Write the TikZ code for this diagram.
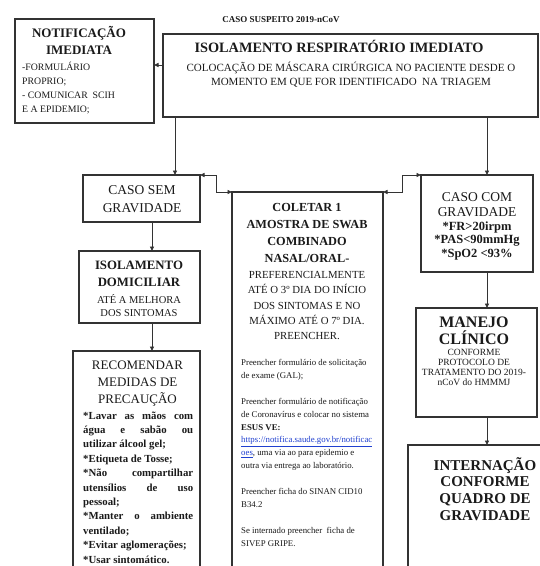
\documentclass[tikz,border=0pt]{standalone}
\usepackage{fontspec}
\setmainfont{Liberation Serif}
\usetikzlibrary{arrows.meta}
\definecolor{ink}{HTML}{1A1A1A}
\definecolor{edge}{HTML}{333333}
\definecolor{linkblue}{HTML}{2040D0}
\newcommand{\fs}[2]{\fontsize{#1}{#2}\selectfont}
\tikzset{
  box/.style={draw=edge, line width=1.1pt, fill=white, anchor=north west, inner sep=0pt, outer sep=0pt},
  txt/.style={inner sep=0pt, text=ink, anchor=base},
  tip/.tip={Triangle[length=4.5pt,width=4pt]},
  arr/.style={draw=edge, line width=0.9pt, -tip},
  arrboth/.style={draw=edge, line width=0.9pt, tip-tip},
}
\begin{document}
\begin{tikzpicture}[x=1pt,y=-1pt]
\useasboundingbox[fill=white] (0,0) rectangle (540,566);
\begin{scope}
\clip (0,0) rectangle (540,566);
% boxes
\node[box, minimum width=139pt, minimum height=104pt] (notif) at (15,19) {};
\node[box, minimum width=375pt, minimum height=83pt] (top) at (163,34) {};
\node[box, minimum width=117pt, minimum height=47pt] (casosem) at (83,175) {};
\node[box, minimum width=121pt, minimum height=72pt] (isodom) at (79,251) {};
\node[box, minimum width=127pt, minimum height=240pt] (recom) at (73,351) {};
\node[box, minimum width=151pt, minimum height=400pt] (coletar) at (232,192) {};
\node[box, minimum width=112pt, minimum height=97pt] (casocom) at (421,175) {};
\node[box, minimum width=121pt, minimum height=109pt] (manejo) at (416,308) {};
\node[box, minimum width=160pt, minimum height=200pt] (intern) at (408,445) {};
% helper coordinates
\coordinate (xa) at (175,0);
\coordinate (xb) at (487,0);
\coordinate (xc) at (152,0);
\coordinate (ya) at (0,65);
% connectors
\draw[arr] (top.west |- ya) -- (notif.east |- ya);
\draw[arr] (top.south -| xa) -- (casosem.north -| xa);
\draw[arr] (top.south -| xb) -- (casocom.north -| xb);
\draw[arrboth] (casosem.north east) -- ++(16,0) |- (coletar.north west);
\draw[arrboth] (casocom.north west) -- ++(-19,0) |- (coletar.north east);
\draw[arr] (casosem.south -| xc) -- (isodom.north -| xc);
\draw[arr] (isodom.south -| xc) -- (recom.north -| xc);
\draw[arr] (casocom.south -| xb) -- (manejo.north -| xb);
\draw[arr] (manejo.south -| xb) -- (intern.north -| xb);
% texts (anchor=base is the baseline of the LAST line)
\node[txt, font=\bfseries\fs{9}{11}] (t0) at (281,22) {CASO SUSPEITO 2019-nCoV};
\node[txt, font=\bfseries\fs{14.3}{16}] (t1) at (339,52.5) {ISOLAMENTO RESPIRATÓRIO IMEDIATO};
\node[txt, align=center, font=\fs{11}{14}] (t2) at (351,85.5) {COLOCAÇÃO DE MÁSCARA CIRÚRGICA NO PACIENTE DESDE O\\MOMENTO EM QUE FOR IDENTIFICADO \ NA TRIAGEM};
\node[txt, align=center, font=\bfseries\fs{13}{17}] (t3) at (79,54.5) {NOTIFICAÇÃO\\IMEDIATA};
\node[txt, anchor=base west, align=left, font=\fs{9.8}{14.3}] (t4) at (22,112.9) {-FORMULÁRIO\\PROPRIO;\\- COMUNICAR \ SCIH\\E A EPIDEMIO;};
\node[txt, align=center, font=\fs{13.5}{18}] (t5) at (142,212.5) {CASO SEM\\GRAVIDADE};
\node[txt, align=center, font=\bfseries\fs{12.8}{17}] (t6) at (139,286.5) {ISOLAMENTO\\DOMICILIAR};
\node[txt, align=center, font=\fs{10.5}{12.5}] (t7) at (139,316) {ATÉ A MELHORA\\DOS SINTOMAS};
\node[txt, align=center, font=\fs{13}{17}] (t8) at (137.5,403.3) {RECOMENDAR\\MEDIDAS DE\\PRECAUÇÃO};
\node[txt, anchor=base west, align=left, font=\bfseries\fs{10.8}{14.4}] (t9) at (83,563) {%
\makebox[110pt][s]{*Lavar as mãos com}\\
\makebox[110pt][s]{água e sabão ou}\\
utilizar álcool gel;\\
*Etiqueta de Tosse;\\
\makebox[110pt][s]{*Não compartilhar}\\
\makebox[110pt][s]{utensílios de uso}\\
pessoal;\\
\makebox[110pt][s]{*Manter o ambiente}\\
ventilado;\\
*Evitar aglomerações;\\
*Usar sintomático.};
\node[txt, align=center, font=\bfseries\fs{12.3}{17}] (t10) at (307,262.3) {COLETAR 1\\AMOSTRA DE SWAB\\COMBINADO\\NASAL/ORAL-};
\node[txt, align=center, font=\fs{10.8}{15.3}] (t11) at (307,339.8) {PREFERENCIALMENTE\\ATÉ O 3º DIA DO INÍCIO\\DOS SINTOMAS E NO\\MÁXIMO ATÉ O 7º DIA.\\PREENCHER.};
\node[txt, anchor=base west, align=left, font=\fs{8.8}{12.9}] (t12) at (241,546.1) {%
Preencher formulário de solicitação\\
de exame (GAL);\\[12.9pt]
Preencher formulário de notificação\\
de Coronavírus e colocar no sistema\\
\textbf{ESUS VE:}\\
{\color{linkblue}\underline{https://notifica.saude.gov.br/notificac}}\\
{\color{linkblue}\underline{oes}}, uma via ao para epidemio e\\
outra via entrega ao laboratório.\\[12.9pt]
Preencher ficha do SINAN CID10\\
B34.2\\[12.9pt]
Se internado preencher \ ficha de\\
SIVEP GRIPE.};
\node[txt, align=center, font=\fs{13.5}{15}] (t13) at (477,216.5) {CASO COM\\GRAVIDADE};
\node[txt, align=center, font=\bfseries\fs{12.5}{13.5}] (t14) at (477,257) {*FR>20irpm\\*PAS<90mmHg\\*SpO2 <93\%};
\node[txt, align=center, font=\bfseries\fs{16}{16.5}] (t15) at (474,344) {MANEJO\\CLÍNICO};
\node[txt, align=center, font=\fs{9.5}{10}] (t16) at (474,385) {CONFORME\\PROTOCOLO DE\\TRATAMENTO DO 2019-\\nCoV do HMMMJ};
\node[txt, align=center, font=\bfseries\fs{15}{16.7}] (t17) at (485,520.1) {INTERNAÇÃO\\CONFORME\\QUADRO DE\\GRAVIDADE};
\end{scope}
\end{tikzpicture}
\end{document}
